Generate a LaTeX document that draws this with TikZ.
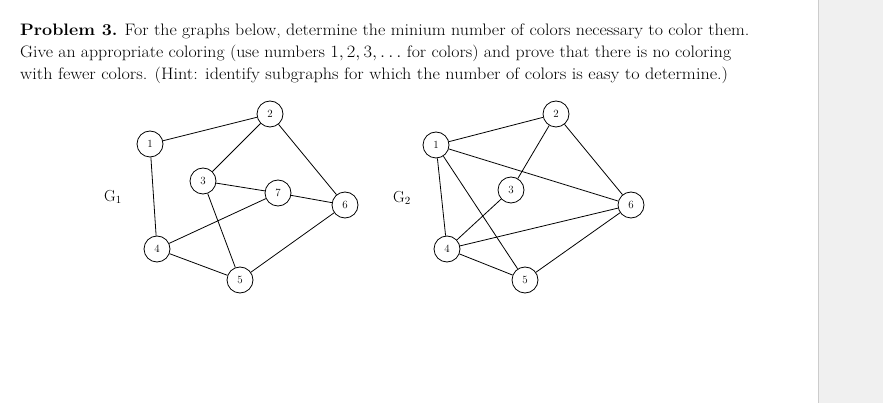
\documentclass[tikz,border=0pt]{standalone}
\usepackage{graphicx}
\begin{document}
\begin{tikzpicture}[x=1pt,y=-1pt,
  v/.style={circle,draw,line width=0.8pt,minimum size=26pt,inner sep=0pt,font=\fontsize{11}{13}\selectfont},
  e/.style={line width=0.8pt},
  txt/.style={anchor=base west,inner sep=0pt,font=\fontsize{16.6}{20}\selectfont}]
\useasboundingbox (0,0) rectangle (883,403);
\fill[gray!12] (818,0) rectangle (883,403);
\draw[gray!40] (818,0) -- (818,403);
\node[txt] (l1) at (20,36) {\scalebox{1.079}[1]{\textbf{Problem 3.} For the graphs below, determine the minium number of colors necessary to color them.}};
\node[txt] (l2) at (20,58) {\scalebox{1.072}[1]{Give an appropriate coloring (use numbers $1,2,3,\ldots$ for colors) and prove that there is no coloring}};
\node[txt] (l3) at (20,80) {\scalebox{1.093}[1]{with fewer colors. (Hint: identify subgraphs for which the number of colors is easy to determine.)}};
% G1
\node (g1) at (113,197) {\fontsize{16}{18}\selectfont G$_1$};
\node[v] (a1) at (150,144) {1};
\node[v] (a2) at (270,114) {2};
\node[v] (a3) at (203,181) {3};
\node[v] (a7) at (278,193) {7};
\node[v] (a6) at (345,205) {6};
\node[v] (a4) at (157,249) {4};
\node[v] (a5) at (240,280) {5};
\foreach \p/\q in {a1/a2,a1/a4,a2/a3,a2/a6,a3/a7,a3/a5,a7/a6,a7/a4,a4/a5,a5/a6}
  \draw[e] (\p) -- (\q);
% G2
\node (g2) at (402,198) {\fontsize{16}{18}\selectfont G$_2$};
\node[v] (b1) at (436,145) {1};
\node[v] (b2) at (556,114) {2};
\node[v] (b3) at (511,190) {3};
\node[v] (b6) at (631,205) {6};
\node[v] (b4) at (447,249) {4};
\node[v] (b5) at (525,280) {5};
\foreach \p/\q in {b1/b2,b1/b4,b1/b5,b1/b6,b2/b3,b2/b6,b3/b4,b4/b6,b4/b5,b5/b6}
  \draw[e] (\p) -- (\q);
\end{tikzpicture}
\end{document}
